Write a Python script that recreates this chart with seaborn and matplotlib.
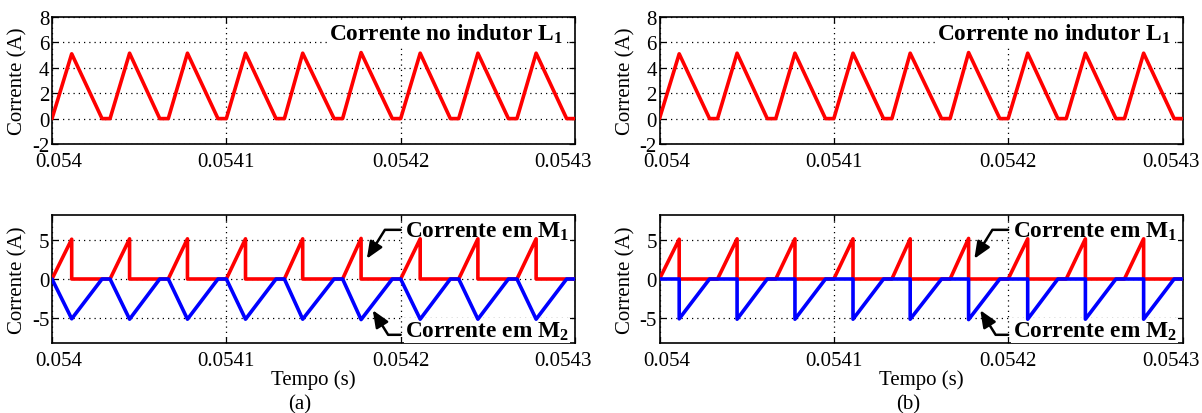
import matplotlib
matplotlib.use("Agg")
import matplotlib.pyplot as plt
from matplotlib.transforms import ScaledTranslation
import pandas as pd
import seaborn as sns

# Switching cycles (30 kHz): start of each cycle, time of the current peak,
# time at which the inductor current returns to zero, and peak value (A)
cycle_start = [0.0540000, 0.0540333, 0.0540667, 0.0541000, 0.0541333,
               0.0541667, 0.0542000, 0.0542333, 0.0542667]
peak_time = [0.0540113, 0.0540445, 0.0540777, 0.0541110, 0.0541438,
             0.0541773, 0.0542112, 0.0542443, 0.0542777]
zero_time = [0.0540287, 0.0540618, 0.0540952, 0.0541285, 0.0541618,
             0.0541952, 0.0542285, 0.0542618, 0.0542952]
peak_current = [5.10, 5.15, 5.15, 5.15, 5.15, 5.20, 5.15, 5.15, 5.15]
t_end = 0.0543

x_ticks = [0.054, 0.0541, 0.0542, 0.0543]
x_tick_labels = ["0.054", "0.0541", "0.0542", "0.0543"]
top_y_ticks = [-2, 0, 2, 4, 6, 8]
bottom_y_ticks = [-5, 0, 5]

RED = "#ff0000"
BLUE = "#0000ff"
SERIF = "Liberation Serif"


def inductor_current():
    t, i = [], []
    for s, p, z, v in zip(cycle_start, peak_time, zero_time, peak_current):
        t += [s, p, z]
        i += [0.0, v, 0.0]
    t.append(t_end)
    i.append(0.0)
    return pd.DataFrame({"t": t, "i": i})


def switch1_current():
    t, i = [], []
    for s, p, v in zip(cycle_start, peak_time, peak_current):
        t += [s, p, p]
        i += [0.0, v, 0.0]
    t.append(t_end)
    i.append(0.0)
    return pd.DataFrame({"t": t, "i": i})


def switch2_current_a():
    # conducts during the whole inductor pulse (mirror of iL)
    df = inductor_current()
    df["i"] = -df["i"]
    return df


def switch2_current_b():
    # conducts only while the inductor current is falling
    t, i = [], []
    for s, p, z, v in zip(cycle_start, peak_time, zero_time, peak_current):
        t += [s, p, p, z]
        i += [0.0, 0.0, -v, 0.0]
    t.append(t_end)
    i.append(0.0)
    return pd.DataFrame({"t": t, "i": i})


sns.set_theme(style="white")
plt.rcParams["font.family"] = [SERIF, "DejaVu Serif"]
plt.rcParams["mathtext.fontset"] = "custom"
plt.rcParams["mathtext.rm"] = SERIF
plt.rcParams["mathtext.bf"] = SERIF + ":bold"
plt.rcParams["axes.unicode_minus"] = False

fig = plt.figure(figsize=(12.02, 4.14), dpi=100)
W, H = 1202.0, 414.0


def px_axes(left, top, right, bottom):
    return fig.add_axes([left / W, 1 - bottom / H, (right - left) / W, (bottom - top) / H])


ax_ta = px_axes(52, 18, 575, 145)
ax_ba = px_axes(52, 216, 575, 344)
ax_tb = px_axes(659.5, 18, 1182.5, 145)
ax_bb = px_axes(659.5, 216, 1182.5, 344)

line_kw = dict(x="t", y="i", estimator=None, sort=False, linewidth=2.6, zorder=5)

for ax in (ax_ta, ax_tb):
    sns.lineplot(data=inductor_current(), color=RED, ax=ax, **line_kw)

sns.lineplot(data=switch1_current(), color=RED, ax=ax_ba, **line_kw)
sns.lineplot(data=switch2_current_a(), color=BLUE, ax=ax_ba, **line_kw)
sns.lineplot(data=switch1_current(), color=RED, ax=ax_bb, **line_kw)
sns.lineplot(data=switch2_current_b(), color=BLUE, ax=ax_bb, **line_kw)

text_box = dict(boxstyle="square,pad=0.05", facecolor="white", edgecolor="none")
ANN_SIZE = 16.8

for ax in (ax_ta, ax_tb, ax_ba, ax_bb):
    ax.set_xlim(0.054, 0.0543)
    ax.set_xticks(x_ticks)
    ax.set_xticklabels(x_tick_labels)
    ax.grid(True, color="black", linestyle=(0, (1, 3.2)), linewidth=0.9)
    ax.set_axisbelow(True)
    for sp in ax.spines.values():
        sp.set_color("black")
        sp.set_linewidth(1.2)
        sp.set_visible(True)
    ax.tick_params(axis="both", direction="in", length=4, width=0.9, color="black",
                   top=True, right=True, bottom=True, left=True, labelsize=15,
                   labelcolor="black")
    ax.tick_params(axis="x", pad=6)
    ax.tick_params(axis="y", pad=2)
    ax.set_xlabel("")
    ax.set_ylabel("Corrente (A)", fontsize=15, color="black")
    ax.yaxis.set_label_coords(-0.065, 0.5)
    ax.yaxis.label.set_va("center")

for ax in (ax_ta, ax_tb):
    ax.set_ylim(-2, 8)
    ax.set_yticks(top_y_ticks)
    ax.text(0.977, 0.827, r"Corrente no indutor L$_\mathbf{1}$", transform=ax.transAxes,
            ha="right", va="baseline", fontsize=ANN_SIZE, fontweight="bold",
            color="black", bbox=text_box, zorder=4)

for ax in (ax_ba, ax_bb):
    ax.set_ylim(-8.2, 8.2)
    ax.set_yticks(bottom_y_ticks)
    ax.set_xlabel("Tempo (s)", fontsize=15, color="black")
    ax.xaxis.set_label_coords(0.5, -0.32)
    ax.xaxis.label.set_va("baseline")
    ax.text(0.675, 0.834, r"Corrente em M$_\mathbf{1}$", transform=ax.transAxes,
            ha="left", va="baseline", fontsize=ANN_SIZE, fontweight="bold",
            color="black", bbox=text_box, zorder=4)
    ax.text(0.675, 0.057, r"Corrente em M$_\mathbf{2}$", transform=ax.transAxes,
            ha="left", va="baseline", fontsize=ANN_SIZE, fontweight="bold",
            color="black", bbox=text_box, zorder=4)
    arrow = dict(arrowstyle="-|>,head_length=0.85,head_width=0.36", color="black",
                 linewidth=1.8, shrinkA=0, shrinkB=0)
    ax.annotate("", xy=(0.0541806, 2.6), xytext=(0.0542, 6.3), textcoords="data",
                arrowprops=dict(arrow, connectionstyle="angle,angleA=0,angleB=58,rad=0"),
                annotation_clip=False, zorder=6)
    ax.annotate("", xy=(0.0541840, -4.0), xytext=(0.0542, -7.15), textcoords="data",
                arrowprops=dict(arrow, connectionstyle="angle,angleA=0,angleB=-58,rad=0"),
                annotation_clip=False, zorder=6)

fig.text(300 / W, 0.011, "(a)", ha="center", va="baseline", fontsize=15, color="black")
fig.text(908.5 / W, 0.011, "(b)", ha="center", va="baseline", fontsize=15, color="black")

# end labels of the time axis sit slightly inside the plotting box
for ax in (ax_ta, ax_tb, ax_ba, ax_bb):
    labels = ax.get_xticklabels()
    labels[0].set_transform(labels[0].get_transform() +
                            ScaledTranslation(5 / 72, 0, fig.dpi_scale_trans))
    labels[-1].set_transform(labels[-1].get_transform() +
                             ScaledTranslation(-8.6 / 72, 0, fig.dpi_scale_trans))

fig.savefig("out.png", dpi=100, facecolor="white")
